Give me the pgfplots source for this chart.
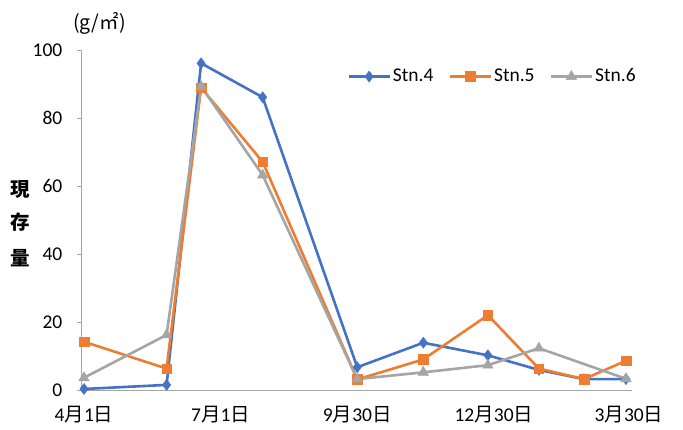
\documentclass[border=0pt]{standalone}
\usepackage{pgfplots}
\pgfplotsset{compat=1.18}
\usepackage{fontspec}
\setmainfont{Carlito}
\newfontfamily\cjk{Noto Sans CJK JP}
\newcommand\tsuki{{\cjk 月}}
\newcommand\hi{{\cjk 日}}
\newcommand\fs{\fontsize{19.5bp}{22bp}\selectfont}
\definecolor{c4}{HTML}{4472C4}
\definecolor{c5}{HTML}{ED7D31}
\definecolor{c6}{HTML}{A5A5A5}
\definecolor{axgray}{HTML}{A6A6A6}
\begin{document}
\fs
\begin{tikzpicture}
\path[use as bounding box] (-81bp,-40bp) rectangle (602bp,390bp);
\begin{axis}[
  at={(0,0)}, anchor=south west,
  scale only axis, width=551bp, height=340bp,
  xmin=-2, xmax=365, ymin=0, ymax=100,
  axis x line=bottom, axis y line=left,
  axis line style={-, draw=axgray, line width=0.9bp},
  xtick={0,91,182,273,363},
  xticklabels={4\tsuki1\hi, 7\tsuki1\hi, 9\tsuki30\hi, 12\tsuki30\hi, 3\tsuki30\hi},
  x tick style={draw=none},
  ytick={0,20,40,60,80,100},
  y tick style={draw=axgray, line width=0.9bp},
  tick align=outside, major tick length=4bp,
  /pgf/number format/assume math mode=true,
  ticklabel style={font=\fs, text=black},
  xticklabel style={yshift=-5bp},
  yticklabel style={xshift=-8bp},
  legend columns=3,
  legend style={draw=none, fill=none, at={(0.483,0.922)}, anchor=west,
    font=\fs,
    /tikz/every even column/.append style={column sep=13bp},
    inner sep=0pt},
  legend cell align=left,
  legend image code/.code={\draw[mark repeat=2,mark phase=2] plot coordinates {(0bp,0bp)(20.5bp,0bp)(41bp,0bp)};},
]
\addplot[c4, line width=2.6bp, mark=diamond*, mark size=5.5bp, mark options={fill=c4, draw=c4, line width=0.5bp}] coordinates {
(0,0.3)(55,1.5)(78,96.1)(119,86.1)(182,6.7)(226,13.9)(269,10.2)(303,5.9)(333,3.2)(361,3.2)};
\addlegendentry{Stn.4}
\addplot[c5, line width=2.6bp, mark=square*, mark size=4.8bp, mark options={fill=c5, draw=c5, line width=0.5bp}] coordinates {
(0,14.2)(55,6.3)(78,88.9)(119,67.1)(182,3.1)(226,9.0)(269,22.0)(303,6.3)(333,3.2)(361,8.6)};
\addlegendentry{Stn.5}
\addplot[c6, line width=2.6bp, mark=triangle*, mark size=6bp, mark options={fill=c6, draw=c6, line width=0.5bp}] coordinates {
(0,3.6)(55,16.2)(78,89.3)(119,63.2)(182,3.2)(226,5.2)(269,7.3)(303,12.3)(361,3.3)};
\addlegendentry{Stn.6}
\end{axis}
\node[font=\fs\bfseries\cjk] at (-61bp,200bp) {現};
\node[font=\fs\bfseries\cjk] at (-61bp,168bp) {存};
\node[font=\fs\bfseries\cjk] at (-61bp,132bp) {量};
\node[font=\fs\cjk] at (18.5bp,367bp) {(g/㎡)};
\end{tikzpicture}
\end{document}
